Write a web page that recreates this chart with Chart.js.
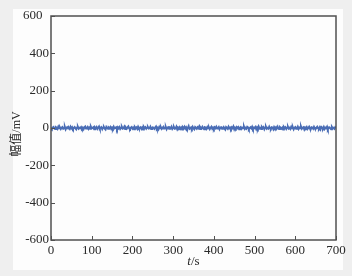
<!DOCTYPE html>
<html>
<head>
<meta charset="utf-8">
<script src="https://cdn.jsdelivr.net/npm/chart.js@4/dist/chart.umd.min.js"></script>
<style>
html,body{margin:0;padding:0;background:#efefef;}
#wrap{width:352px;height:276px;position:relative;}
</style>
</head>
<body>
<div id="wrap"><canvas id="c" width="352" height="276"></canvas></div>
<script>
// amplitude (mV) sampled every 2 s from 0 to 700 s
const amplitude = [
  2,-4,1,5,-2,-6,4,1,-5,7,-1,3,-5,2,5,-4,-1,6,-7,2,4,-3,1,-5,7,
  -2,4,-5,1,5,-2,-7,3,6,-4,1,-1,5,-4,2,-6,4,8,-3,-1,5,-5,2,-4,7,
  -2,1,4,-7,3,-2,5,-5,1,8,-4,-1,4,-6,2,5,-3,-8,6,1,-4,3,-1,5,-5,
  2,-4,7,-2,1,4,-7,4,-2,5,-5,1,6,-3,-1,7,-5,2,-4,4,9,-2,-6,2,5,
  -4,1,-7,5,-1,3,-5,7,-2,1,4,-5,2,-8,6,-1,4,-4,2,5,-3,-1,7,-6,1,
  4,-2,-5,3,8,-4,1,-7,5,-2,4,-5,1,6,-3,-1,5,-7,2,4,-4,2,-1,7,-5,
  1,5,-4,-2,7,-6,3,-1,5,-4,2,-8,4,-1,7,-3,4,-5,1,10,-5,-2,3,-4,6,
  -2,-7,5,1,-4,4,-1,8,-5,2,-3,6,-1,-7,4,2,-5,5,-2,3,-6,1,7,-4,2,
  -5,4,-1,7,-3,-1,5,-7,2,4,-4,1,6,-2,-8,5,1,-4,7,-2,2,-5,4,-1,8,
  -6,2,-3,5,-1,4,-7,1,5,-4,2,-2,7,-5,1,-4,6,3,-7,-1,4,-2,7,-5,2,
  -1,5,-6,3,-4,8,-2,1,-5,5,-1,4,-7,2,6,-4,1,-3,7,-2,-5,4,2,-7,5,
  -2,3,-4,7,-1,-6,5,1,-4,2,-8,5,-1,4,-5,2,7,-3,1,-5,6,-2,4,-7,1,
  5,-4,-1,7,-5,2,-2,8,-4,1,4,-7,3,-1,5,-5,1,7,-3,-6,4,2,-4,6,-2,
  -5,2,7,-1,-4,4,-7,5,1,-3,6,-5,2,-1,7,-6,3,4,-2,-7,5,-2,1,-4,4,
  -1
];
const sampleStep = 2;
const times = amplitude.map((_, i) => i * sampleStep);
const xTicks = [0,100,200,300,400,500,600,700];
const yTicks = [-600,-400,-200,0,200,400,600];
const yTitle = '幅值/mV';
const xTitleItalic = 't';
const xTitleRest = '/s';

const serif = '"Liberation Serif", "Times New Roman", serif';
const axisColor = '#505050';

const framePlugin = {
  id: 'frame',
  beforeDraw(chart) {
    const ctx = chart.ctx;
    ctx.save();
    ctx.fillStyle = '#fdfdfd';
    ctx.fillRect(13, 9, 330, 261);
    ctx.restore();
  },
  afterDraw(chart) {
    const ctx = chart.ctx;
    const a = chart.chartArea;
    const xs = chart.scales.x, ys = chart.scales.y;
    ctx.save();
    ctx.strokeStyle = axisColor;
    ctx.lineWidth = 1.5;
    ctx.strokeRect(a.left, a.top, a.right - a.left, a.bottom - a.top);
    ctx.lineWidth = 1;
    ctx.beginPath();
    xs.ticks.forEach(t => {
      const p = Math.round(xs.getPixelForValue(t.value)) + 0.5;
      ctx.moveTo(p, a.bottom);
      ctx.lineTo(p, a.bottom - 4);
    });
    ys.ticks.forEach(t => {
      const p = Math.round(ys.getPixelForValue(t.value)) + 0.5;
      ctx.moveTo(a.left, p);
      ctx.lineTo(a.left + 4, p);
    });
    ctx.stroke();
    ctx.fillStyle = '#2a2a2a';
    ctx.textBaseline = 'middle';
    // x title: italic t + upright /s
    ctx.font = 'italic 13px ' + serif;
    const w1 = ctx.measureText(xTitleItalic).width;
    ctx.font = '13px ' + serif;
    const w2 = ctx.measureText(xTitleRest).width;
    const cx = (a.left + a.right) / 2;
    const x0 = cx - (w1 + w2) / 2;
    ctx.font = 'italic 13px ' + serif;
    ctx.textAlign = 'left';
    ctx.fillText(xTitleItalic, x0, 262);
    ctx.font = '13px ' + serif;
    ctx.fillText(xTitleRest, x0 + w1, 262);
    // y title (rotated)
    ctx.translate(17, 134);
    ctx.rotate(-Math.PI / 2);
    ctx.textAlign = 'center';
    ctx.font = '12px ' + serif + ', "Noto Sans CJK SC"';
    ctx.fillText(yTitle, 0, 0);
    ctx.restore();
  }
};

new Chart(document.getElementById('c'), {
  type: 'line',
  data: {
    labels: times,
    datasets: [{
      data: amplitude.map((v, i) => ({x: times[i], y: v})),
      borderColor: '#4a6db5',
      borderWidth: 2,
      pointRadius: 0,
      tension: 0,
      fill: false
    }]
  },
  options: {
    responsive: false,
    animation: false,
    events: [],
    layout: {padding: {left: 0, top: 16, right: 16, bottom: 0}},
    plugins: {legend: {display: false}, tooltip: {enabled: false}},
    scales: {
      x: {
        type: 'linear',
        min: 0, max: 700,
        afterBuildTicks(s) { s.ticks = xTicks.map(v => ({value: v})); },
        afterFit(s) { s.height = 36; },
        grid: {display: false, drawTicks: false},
        border: {display: false},
        ticks: {
          color: '#2a2a2a',
          font: {family: serif, size: 13},
          padding: 3,
          maxRotation: 0,
          autoSkip: false
        }
      },
      y: {
        min: -600, max: 600,
        afterBuildTicks(s) { s.ticks = yTicks.map(v => ({value: v})); },
        afterFit(s) { s.width = 51; },
        grid: {display: false, drawTicks: false},
        border: {display: false},
        ticks: {
          color: '#2a2a2a',
          font: {family: serif, size: 13},
          padding: 2,
          autoSkip: false,
          callback: v => (v === 600 ? '600  ' : String(v))
        }
      }
    }
  },
  plugins: [framePlugin]
});
</script>
</body>
</html>
